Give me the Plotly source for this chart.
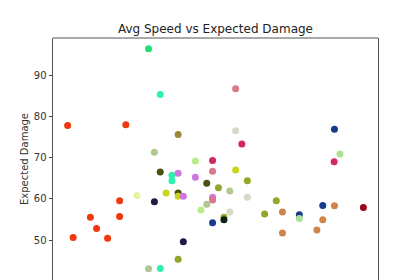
import plotly.graph_objects as go

avg_speed = [29.4, 33.0, 56.2, 4.5, 22.4, 86.6, 38.5, 56.2, 58.1, 31.2,
             88.3, 86.5, 43.8, 49.1, 33.0, 36.6, 36.6, 38.5, 43.8, 49.1,
             56.2, 59.8, 47.3, 50.9, 54.4, 25.8, 31.2, 34.8, 38.5, 38.5,
             40.1, 49.1, 49.1, 59.8, 45.5, 47.3, 54.4, 49.1, 52.6, 52.6,
             65.1, 68.7, 70.6, 70.6, 75.8, 75.8, 83.0, 86.6, 83.0, 81.2,
             95.5, 20.5, 11.5, 20.5, 13.4, 6.2, 16.8, 40.1, 38.5, 29.4, 33.0]
expected_damage = [96.4, 85.3, 86.7, 77.8, 78.0, 76.9, 75.6, 76.5, 73.3, 71.3,
                   70.9, 69.0, 69.2, 69.3, 66.5, 65.7, 64.4, 66.2, 65.2, 66.7,
                   67.0, 64.4, 63.8, 62.7, 61.9, 60.8, 59.3, 61.4, 61.4, 60.6,
                   60.6, 60.4, 59.7, 60.4, 57.3, 58.7, 56.8, 54.2, 55.5, 54.9,
                   56.3, 59.5, 56.8, 51.7, 56.1, 55.2, 58.4, 58.3, 54.9, 52.4,
                   57.9, 59.5, 55.5, 55.7, 52.8, 50.6, 50.4, 49.6, 45.3, 43.0, 43.1]
colors = ["#20e070", "#30f0b0", "#d87888", "#f0380e", "#f0380e", "#1a3a8c", "#9a8a38", "#d4dcc8", "#d02860", "#b0c890",
          "#a8e098", "#d02860", "#b8ec88", "#d02860", "#4a5010", "#30f0b0", "#30f0b0", "#cc78e0", "#cc78e0", "#d87888",
          "#c8d420", "#90a828", "#4a5010", "#90a828", "#b0c890", "#e4f4a0", "#1c1c44", "#c8d420", "#4a5010", "#c8d420",
          "#cc78e0", "#cc78e0", "#d87888", "#d4dcc8", "#b8ec88", "#b0c890", "#d4dcc8", "#1a3a8c", "#90a828", "#102010",
          "#90a828", "#90a828", "#d08448", "#d08448", "#1a3a8c", "#a8e098", "#1a3a8c", "#d08448", "#d08448", "#d08448",
          "#980818", "#f0380e", "#f0380e", "#f0380e", "#f0380e", "#f0380e", "#f0380e", "#1c1c44", "#90a828", "#b0c890", "#30f0b0"]
y_ticks = [50, 60, 70, 80, 90]

fig = go.Figure(go.Scatter(
    x=avg_speed, y=expected_damage, mode="markers",
    marker=dict(size=7, color=colors, line=dict(width=0)),
))

fig.update_layout(
    width=420, height=280,
    margin=dict(l=53, r=42, t=38, b=0),
    paper_bgcolor="white", plot_bgcolor="white",
    font=dict(family="DejaVu Sans", size=10, color="#333333"),
    showlegend=False,
    title=dict(text="Avg Speed vs Expected Damage", x=0.513, xanchor="center",
               y=0.897, yanchor="middle", font=dict(size=12, color="#222222")),
    xaxis=dict(range=[0, 100], showgrid=False, zeroline=False, showticklabels=False,
               ticks="", showline=False),
    yaxis=dict(range=[40.29, 99.03], showgrid=False, zeroline=False,
               tickvals=y_ticks, ticks="outside", ticklen=3.5, tickcolor="#444444",
               showline=True, mirror=True, linecolor="#555555", linewidth=1,
               title=dict(text="Expected Damage", font=dict(size=10, color="#333333"), standoff=3)),
    shapes=[dict(type="line", xref="paper", yref="paper", x0=0, x1=1, y0=1, y1=1,
                 line=dict(color="#555555", width=1))],
)

fig.write_html("out.html")
